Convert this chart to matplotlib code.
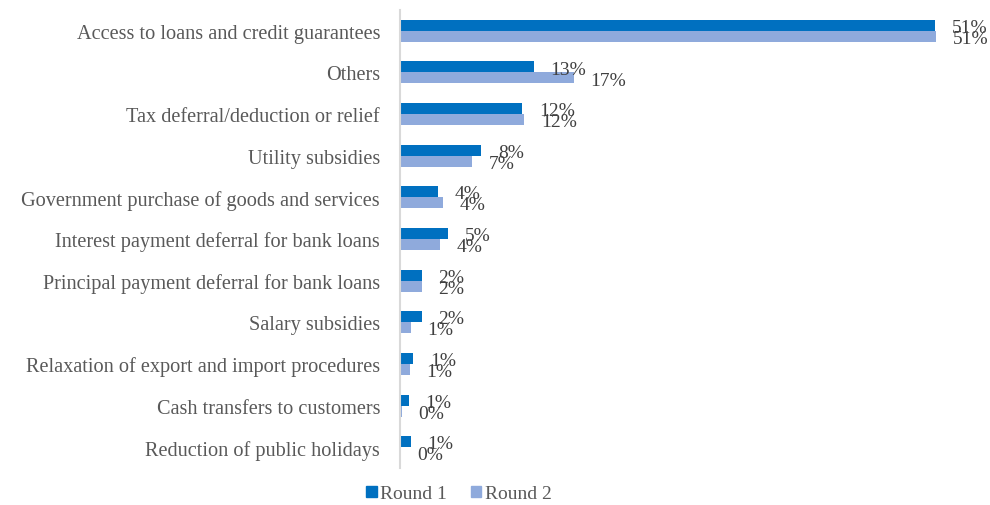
import matplotlib
matplotlib.use("Agg")
import matplotlib.pyplot as plt
import numpy as np
from matplotlib.patches import Patch

categories = [
    "Access to loans and credit guarantees",
    "Others",
    "Tax deferral/deduction or relief",
    "Utility subsidies",
    "Government purchase of goods and services",
    "Interest payment deferral for bank loans",
    "Principal payment deferral for bank loans",
    "Salary subsidies",
    "Relaxation of export and import procedures",
    "Cash transfers to customers",
    "Reduction of public holidays",
]
round1 = [51.0, 12.8, 11.7, 7.8, 3.7, 4.6, 2.1, 2.1, 1.3, 0.9, 1.1]
round2 = [51.1, 16.6, 11.9, 6.9, 4.1, 3.9, 2.1, 1.1, 1.0, 0.2, 0.1]
series_names = ["Round 1", "Round 2"]

c1 = "#0070C0"
c2 = "#8FAADC"
txt = "#595959"
font = "Liberation Serif"

fig = plt.figure(figsize=(9.9, 5.06), dpi=100)
ax = fig.add_axes([399.5 / 990, 1 - 469 / 506, (977 - 399.5) / 990, (469 - 11) / 506])

y = np.arange(len(categories))
h = 0.265
b1 = ax.barh(y - h / 2, round1, height=h, color=c1)
b2 = ax.barh(y + h / 2, round2, height=h, color=c2)

for bars, vals in ((b1, round1), (b2, round2)):
    for bar, v in zip(bars, vals):
        ax.annotate(f"{v:.0f}%", (bar.get_width(), bar.get_y() + bar.get_height() / 2),
                    xytext=(12, -1.5), textcoords="offset points", ha="left", va="center",
                    fontsize=14, color="#404040", family=font)

ax.set_xlim(0, 55)
ax.set_ylim(len(categories) - 0.5, -0.5)
ax.set_yticks(y)
ax.set_yticklabels(categories, family=font, fontsize=14.6, color=txt)
ax.tick_params(axis="y", length=0, pad=14)
ax.set_xticks([])
for s in ("top", "right", "bottom"):
    ax.spines[s].set_visible(False)
ax.spines["left"].set_color("#D9D9D9")
ax.spines["left"].set_linewidth(1.5)

handles = [Patch(color=c1), Patch(color=c2)]
fig.legend(handles, series_names, loc="center", bbox_to_anchor=(459 / 990, 1 - 495 / 506),
           ncol=2, frameon=False, prop={"family": font, "size": 14},
           handlelength=0.55, handleheight=0.55, handletextpad=0.2, columnspacing=1.2,
           labelcolor=txt)

fig.savefig("out.png", dpi=100)
